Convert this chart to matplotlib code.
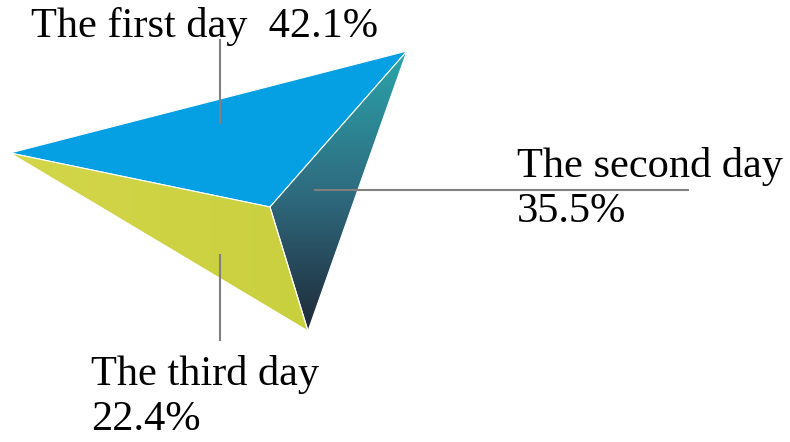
import numpy as np
import matplotlib.pyplot as plt
from matplotlib.patches import Polygon
from matplotlib.colors import LinearSegmentedColormap

labels = ["The first day", "The second day", "The third day"]
values = [42.1, 35.5, 22.4]

# pyramid outline in pixel space: left tip, top-right tip, bottom tip, apex
tip_left = (10, 153)
tip_right = (407, 51)
tip_bottom = (308, 331)
apex = (270, 207)

blue = "#05a0e4"

plt.rcParams["font.family"] = ["Liberation Serif", "DejaVu Serif"]

fig = plt.figure(figsize=(7.9, 4.42), dpi=100)
ax = fig.add_axes([0, 0, 1, 1])
ax.set_xlim(0, 790)
ax.set_ylim(442, 0)
ax.axis("off")

# top face
ax.add_patch(Polygon([tip_left, tip_right, apex], closed=True,
                     facecolor=blue, edgecolor="white", linewidth=0.8, zorder=2))

# lower-left face, slight light-to-dark shading
face3 = Polygon([tip_left, apex, tip_bottom], closed=True,
                facecolor="none", edgecolor="white", linewidth=0.8, zorder=3)
ax.add_patch(face3)
ycmap = LinearSegmentedColormap.from_list("yel", ["#d3d64a", "#c9d03e"])
grad = np.linspace(0, 1, 256).reshape(1, -1)
im = ax.imshow(grad, cmap=ycmap, extent=[10, 310, 331, 150], aspect="auto", zorder=2)
im.set_clip_path(face3)

# right face, teal fading to dark slate
face2 = Polygon([tip_right, tip_bottom, apex], closed=True,
                facecolor="none", edgecolor="white", linewidth=0.8, zorder=3)
ax.add_patch(face2)
tcmap = LinearSegmentedColormap.from_list("teal", ["#2aa5ab", "#2f6c80", "#1f2a38"])
vgrad = np.linspace(0, 1, 256).reshape(-1, 1)
im2 = ax.imshow(vgrad, cmap=tcmap, extent=[260, 410, 331, 50], aspect="auto", zorder=2)
im2.set_clip_path(face2)

# leader lines
line_kw = dict(color="#808080", linewidth=1.5, zorder=4)
ax.plot([220, 220], [40, 123], **line_kw)
ax.plot([315, 688], [190, 190], **line_kw)
ax.plot([220, 220], [255, 340], **line_kw)

fs = 30.5
ax.text(31, 37, f"{labels[0]}  {values[0]:.1f}%", fontsize=fs, va="baseline")
ax.text(517, 177, labels[1], fontsize=fs, va="baseline")
ax.text(517, 222, f"{values[1]:.1f}%", fontsize=fs, va="baseline")
ax.text(91, 385, labels[2], fontsize=fs, va="baseline")
ax.text(91, 430, f"{values[2]:.1f}%", fontsize=fs, va="baseline")

fig.savefig("out.png", dpi=100)
